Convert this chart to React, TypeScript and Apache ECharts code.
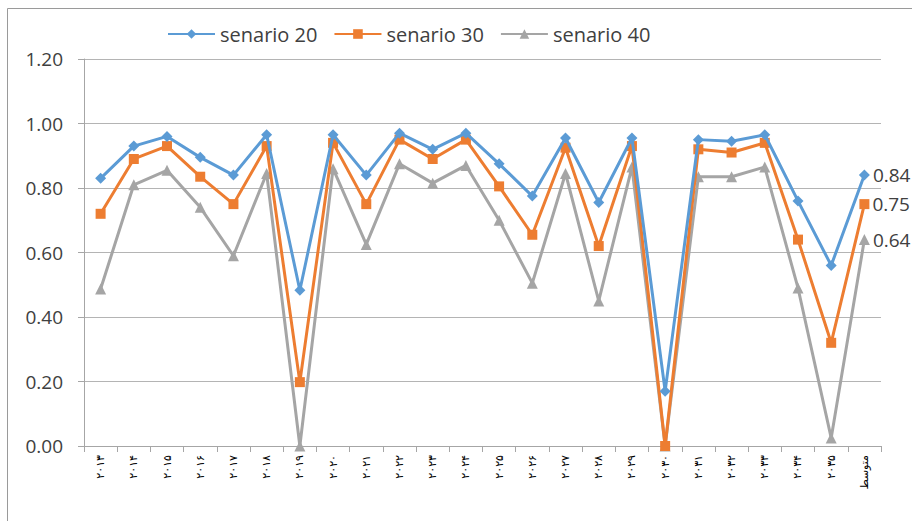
import React, { useEffect, useRef } from "react";
import * as echarts from "echarts";

const categories = [
  "۲۰۱۳", "۲۰۱۴", "۲۰۱۵", "۲۰۱۶", "۲۰۱۷", "۲۰۱۸", "۲۰۱۹", "۲۰۲۰",
  "۲۰۲۱", "۲۰۲۲", "۲۰۲۳", "۲۰۲۴", "۲۰۲۵", "۲۰۲۶", "۲۰۲۷", "۲۰۲۸",
  "۲۰۲۹", "۲۰۳۰", "۲۰۳۱", "۲۰۳۲", "۲۰۳۳", "۲۰۳۴", "۲۰۳۵", "متوسط",
];

const senario20 = [
  0.83, 0.93, 0.96, 0.895, 0.84, 0.965, 0.483, 0.965, 0.84, 0.97, 0.92, 0.97,
  0.875, 0.775, 0.955, 0.755, 0.955, 0.17, 0.95, 0.945, 0.965, 0.76, 0.56, 0.84,
];
const senario30 = [
  0.72, 0.89, 0.93, 0.835, 0.75, 0.93, 0.198, 0.94, 0.75, 0.95, 0.89, 0.95,
  0.805, 0.655, 0.925, 0.62, 0.93, 0.0, 0.92, 0.91, 0.94, 0.64, 0.32, 0.75,
];
const senario40 = [
  0.487, 0.81, 0.855, 0.74, 0.59, 0.845, 0.0, 0.86, 0.625, 0.875, 0.815, 0.87,
  0.7, 0.505, 0.845, 0.45, 0.865, 0.0, 0.835, 0.835, 0.865, 0.49, 0.025, 0.64,
];

const seriesNames = ["senario 20", "senario 30", "senario 40"];
const colors = ["#5B9BD5", "#ED7D31", "#A5A5A5"];
const symbols = ["diamond", "rect", "triangle"];
const symbolSizes = [11, 10, 11];
const yTicks = { min: 0, max: 1.2, interval: 0.2 };

const textColor = "#404040";
const font = "'Open Sans', 'Noto Sans', sans-serif";

export default function App() {
  const ref = useRef<HTMLDivElement>(null);
  useEffect(() => {
    if (!ref.current) return;
    const chart = echarts.init(ref.current, undefined, { renderer: "svg" });
    const allData = [senario20, senario30, senario40];
    const lastIdx = categories.length - 1;
    chart.setOption({
      animation: false,
      backgroundColor: "#ffffff",
      color: colors,
      graphic: [
        {
          type: "rect",
          shape: { x: 7.5, y: 8.5, width: 2000, height: 2000 },
          style: { fill: "none", stroke: "#9a9a9a", lineWidth: 1 },
          silent: true,
          z: -1,
        },
      ],
      legend: {
        left: 167,
        top: 24,
        padding: 0,
        itemWidth: 47,
        itemHeight: 12,
        itemGap: 16,
        textStyle: { color: textColor, fontSize: 20, fontFamily: font },
        data: seriesNames,
      },
      grid: { left: 84, right: 31, top: 59, bottom: 75, containLabel: false },
      xAxis: {
        type: "category",
        data: categories,
        boundaryGap: true,
        axisLine: { show: true, lineStyle: { color: "#A6A6A6", width: 1 } },
        axisTick: { show: true, length: 6, lineStyle: { color: "#A6A6A6" } },
        axisLabel: {
          rotate: 90,
          interval: 0,
          margin: 9,
          fontSize: 11,
          color: "#000000",
          fontFamily: "'DejaVu Sans', sans-serif",
        },
        splitLine: { show: false },
      },
      yAxis: {
        type: "value",
        min: yTicks.min,
        max: yTicks.max,
        interval: yTicks.interval,
        axisLine: { show: true, lineStyle: { color: "#A6A6A6", width: 1 } },
        axisTick: { show: true, length: 6, lineStyle: { color: "#A6A6A6" } },
        axisLabel: {
          margin: 21,
          fontSize: 19,
          color: textColor,
          fontFamily: font,
          formatter: (v: number) => v.toFixed(2),
        },
        splitLine: { show: true, lineStyle: { color: "#B4B4B4", width: 1 } },
      },
      series: allData.map((d, i) => ({
        name: seriesNames[i],
        type: "line",
        data: d.map((v, j) =>
          j === lastIdx
            ? {
                value: v,
                label: {
                  show: true,
                  position: "right",
                  distance: 3,
                  formatter: (p: any) => Number(p.value).toFixed(2),
                  fontSize: 19,
                  color: textColor,
                  fontFamily: font,
                },
              }
            : v
        ),
        symbol: symbols[i],
        symbolSize: symbolSizes[i],
        showAllSymbol: true,
        lineStyle: { width: 3, color: colors[i] },
        itemStyle: { color: colors[i] },
        z: 3 - i,
      })),
    });
    return () => chart.dispose();
  }, []);
  return (
    <div
      ref={ref}
      style={{ position: "absolute", left: 0, top: 0, width: 912, height: 521 }}
    />
  );
}
